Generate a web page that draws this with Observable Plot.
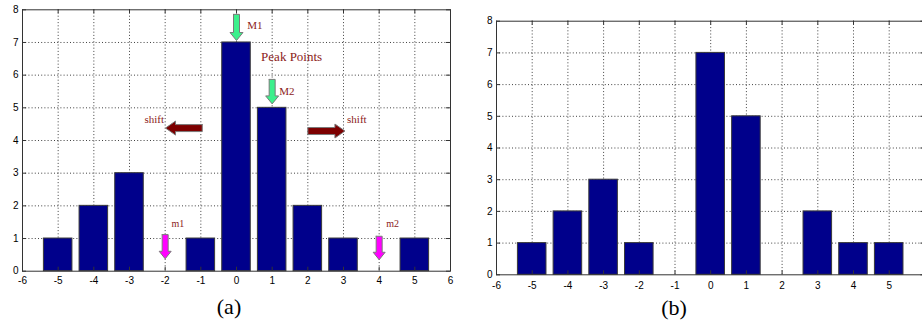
<!DOCTYPE html>
<html>
<head>
<meta charset="utf-8">
<script src="https://cdn.jsdelivr.net/npm/d3@7"></script>
<script src="https://cdn.jsdelivr.net/npm/@observablehq/plot@0.6"></script>
<style>
  html, body { margin: 0; padding: 0; background: #fff; }
  #wrap { position: relative; width: 922px; height: 327px; overflow: hidden; background: #fff; }
  .panel { position: absolute; top: 0; }
  .panel svg { max-width: none !important; display: block; }
  .cap { position: absolute; font-family: "Liberation Serif", "Times New Roman", serif; font-size: 22px; line-height: 1; transform: translate(-50%, -50%); color: #000; white-space: nowrap; }
</style>
</head>
<body>
<div id="wrap">
  <div id="pa" class="panel" style="left:0px;width:460px"></div>
  <div id="pb" class="panel" style="left:460px;width:480px"></div>
  <div class="cap" style="left:229px;top:307px">(a)</div>
  <div class="cap" style="left:674px;top:308px">(b)</div>
</div>
<script>
// ---- data ----
const xTicks = [-6, -5, -4, -3, -2, -1, 0, 1, 2, 3, 4, 5, 6];
const xTickLabelsB = [-6, -5, -4, -3, -2, -1, 0, 1, 2, 3, 4, 5];
const yTicks = [0, 1, 2, 3, 4, 5, 6, 7, 8];
const binX = [-5, -4, -3, -2, -1, 0, 1, 2, 3, 4, 5];
const countsA = [1, 2, 3, 0, 1, 7, 5, 2, 1, 0, 1];
const countsB = [1, 2, 3, 1, 0, 7, 5, 0, 2, 1, 1];

// annotation arrows of panel (a), data units: tail (x1,y1) -> tip (x2,y2)
const arrowX1 = [0, 1, -2, 4, -0.96, 2.0];
const arrowY1 = [7.86, 5.87, 1.12, 1.07, 4.38, 4.29];
const arrowX2 = [0, 1, -2, 4, -1.99, 3.04];
const arrowY2 = [7.06, 5.12, 0.38, 0.35, 4.38, 4.29];
const arrowFill = ["#3cf08c", "#3cf08c", "#ff00ff", "#ff00ff", "#7d0000", "#7d0000"];

// annotation labels of panel (a)
const labelText = ["M1", "Peak Points", "M2", "shift", "shift", "m1", "m2"];
const labelX = [0.3, 0.69, 1.2, -2.58, 3.10, -1.82, 4.2];
const labelY = [7.52, 6.57, 5.51, 4.64, 4.63, 1.45, 1.45];
const labelSize = [11, 13, 11, 11, 11, 10, 10];

const barColor = "#00008b";
const textRed = "#8b1a1a";

function panel({counts, width, height, mt, mr, mb, ml, padX, xLabels, extra = []}) {
  const bars = binX.map((x, i) => ({x, y: counts[i]})).filter(d => d.y > 0);
  return Plot.plot({
    width, height,
    marginTop: mt, marginRight: mr, marginBottom: mb, marginLeft: ml,
    style: {fontFamily: "Liberation Sans, Arial, sans-serif", fontSize: "10px", color: "#000", background: "#fff", maxWidth: "none", overflow: "visible"},
    x: {domain: [-6, 6], ticks: xLabels, tickFormat: d => String(d), tickSize: 0, tickPadding: padX, label: null},
    y: {domain: [0, 8], ticks: yTicks, tickFormat: d => String(d), tickSize: 0, tickPadding: 4, label: null},
    marks: [
      Plot.ruleX(xTicks.slice(1, -1), {x: d => d, stroke: "#111", strokeOpacity: 0.8, strokeDasharray: "1,2.2", strokeWidth: 1}),
      Plot.ruleY(yTicks.slice(1, -1), {y: d => d, stroke: "#111", strokeOpacity: 0.8, strokeDasharray: "1,2.2", strokeWidth: 1}),
      Plot.rectY(bars, {x1: d => d.x - 0.4, x2: d => d.x + 0.4, y1: 0, y2: "y", fill: barColor, stroke: "#3a3a3a", strokeWidth: 1}),
      Plot.frame({stroke: "#333", strokeWidth: 1}),
      Plot.ruleX(xTicks, {x: d => d, y1: 0, y2: 0, insetBottom: 4, stroke: "#333"}),
      Plot.ruleX(xTicks, {x: d => d, y1: 8, y2: 8, insetTop: 4, stroke: "#333"}),
      Plot.ruleY(yTicks, {y: d => d, x1: -6, x2: -6, insetLeft: 4, stroke: "#333"}),
      Plot.ruleY(yTicks, {y: d => d, x1: 6, x2: 6, insetRight: 4, stroke: "#333"}),
      ...extra
    ]
  });
}

// panel (a) geometry
const A = {width: 460, height: 300, mt: 9.3, mr: 10, mb: 29.3, ml: 22, padX: 6};
const kx = (A.width - A.ml - A.mr) / 12;   // px per x unit
const ky = (A.height - A.mt - A.mb) / 8;   // px per y unit
const arrowSize = [[3, 6.5, 8], [3, 6.5, 8], [3, 6, 7.5], [3, 6, 7.5], [3.5, 7, 10], [3.5, 7, 10]];

function arrowPolygon(i) {
  const [w, h, L] = arrowSize[i];
  const x1 = arrowX1[i], y1 = arrowY1[i];
  const dx = (arrowX2[i] - x1) * kx, dy = -(arrowY2[i] - y1) * ky;
  const len = Math.hypot(dx, dy);
  const ux = dx / len, uy = dy / len, nx = -uy, ny = ux;
  const nk = len - L;
  const pts = [
    [nx * w, ny * w],
    [ux * nk + nx * w, uy * nk + ny * w],
    [ux * nk + nx * h, uy * nk + ny * h],
    [dx, dy],
    [ux * nk - nx * h, uy * nk - ny * h],
    [ux * nk - nx * w, uy * nk - ny * w],
    [-nx * w, -ny * w],
    [nx * w, ny * w]
  ];
  return pts.map(([px, py]) => ({x: x1 + px / kx, y: y1 - py / ky}));
}

const arrowMarks = arrowX1.map((_, i) =>
  Plot.line(arrowPolygon(i), {x: "x", y: "y", fill: arrowFill[i], stroke: "#7a7a7a", strokeWidth: 1, strokeLinejoin: "miter"})
);
const labels = labelText.map((t, i) => ({t, x: labelX[i], y: labelY[i], s: labelSize[i]}));
const labelMark = Plot.text(labels, {x: "x", y: "y", text: "t", fontSize: "s", textAnchor: "start", fill: textRed, fontFamily: "Liberation Serif, Times New Roman, serif"});

document.getElementById("pa").append(panel({counts: countsA, ...A, xLabels: xTicks, extra: [...arrowMarks, labelMark]}));
document.getElementById("pb").append(panel({counts: countsB, width: 480, height: 300, mt: 20.7, mr: 15.6, mb: 25.7, ml: 36, padX: 7, xLabels: xTickLabelsB}));
</script>
</body>
</html>
